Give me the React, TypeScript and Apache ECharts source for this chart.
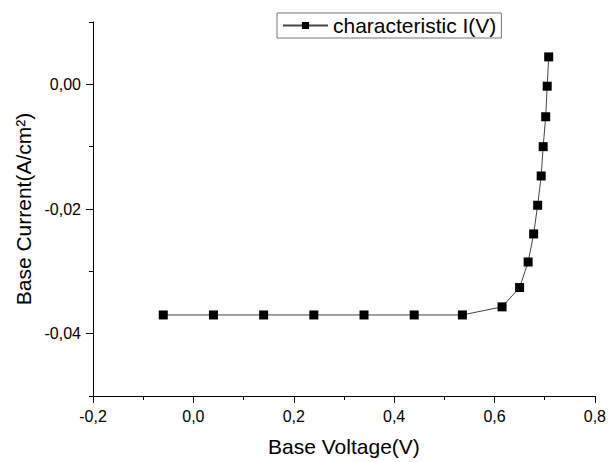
import React, { useEffect, useRef } from "react";
import * as echarts from "echarts";

const voltage = [-0.06, 0.04, 0.14, 0.24, 0.34, 0.44, 0.536, 0.615, 0.65, 0.667, 0.678, 0.686, 0.693, 0.697, 0.702, 0.705, 0.708];
const current = [-0.037, -0.037, -0.037, -0.037, -0.037, -0.037, -0.037, -0.0357, -0.0326, -0.0285, -0.024, -0.0194, -0.0147, -0.01, -0.0052, -0.0003, 0.0044];
const seriesName = "characteristic I(V)";
const xTitle = "Base Voltage(V)";
const yTitle = "Base Current(A/cm²)";
const yMajorTicks = [-0.04, -0.02, 0];

const FONT = "'Liberation Sans', Arial, sans-serif";

export default function App() {
  const ref = useRef<HTMLDivElement>(null);
  useEffect(() => {
    if (!ref.current) return;
    const chart = echarts.init(ref.current, undefined, { renderer: "svg" });
    const data = voltage.map((v, i) => [v, current[i]]);
    chart.setOption({
      animation: false,
      backgroundColor: "#fff",
      textStyle: { fontFamily: FONT },
      grid: { left: 93, top: 22, width: 503, height: 380, containLabel: false },
      legend: {
        left: 277,
        top: 13,
        padding: [2, 5, 2, 5],
        itemWidth: 45,
        itemHeight: 9,
        itemGap: 5,
        borderColor: "#777",
        borderWidth: 1,
        borderRadius: 0,
        textStyle: { fontFamily: FONT, fontSize: 21, color: "#000" },
        data: [{ name: seriesName }],
      },
      xAxis: {
        type: "value",
        min: -0.2,
        max: 0.8,
        interval: 0.2,
        name: xTitle,
        nameLocation: "middle",
        nameGap: 40,
        nameTextStyle: { fontFamily: FONT, fontSize: 21, color: "#000" },
        axisLine: { show: true, onZero: false, lineStyle: { color: "#000", width: 1 } },
        axisTick: { show: true, inside: false, length: 7, lineStyle: { color: "#000" } },
        minorTick: { show: true, splitNumber: 2, length: 4, lineStyle: { color: "#000" } },
        splitLine: { show: false },
        axisLabel: {
          margin: 12,
          fontSize: 16,
          color: "#000",
          fontFamily: FONT,
          formatter: (v: number) => v.toFixed(1).replace(".", ","),
        },
      },
      yAxis: [
        {
          type: "value",
          position: "left",
          min: -0.05,
          max: 0.01,
          interval: 0.01,
          name: yTitle,
          nameLocation: "middle",
          nameGap: 55,
          nameTextStyle: { fontFamily: FONT, fontSize: 21, color: "#000" },
          axisLine: { show: true, onZero: false, lineStyle: { color: "#000", width: 1 } },
          axisTick: { show: true, inside: false, length: 4, lineStyle: { color: "#000" } },
          splitLine: { show: false },
          axisLabel: {
            margin: 12,
            fontSize: 16,
            color: "#000",
            fontFamily: FONT,
            formatter: (v: number) => {
              const k = Math.round(v * 100);
              if (k % 2 !== 0) return "";
              return (k / 100).toFixed(2).replace(".", ",");
            },
          },
        },
        {
          type: "value",
          position: "left",
          offset: 0,
          min: -0.05,
          max: 0.01,
          interval: 0.01,
          axisLine: { show: false, onZero: false },
          axisTick: { show: true, inside: false, length: 7, customValues: yMajorTicks, lineStyle: { color: "#000" } },
          axisLabel: { show: false },
          splitLine: { show: false },
        },
      ],
      series: [
        {
          name: seriesName,
          type: "line",
          yAxisIndex: 0,
          data,
          symbol: "rect",
          symbolSize: 9,
          itemStyle: { color: "#000" },
          lineStyle: { color: "#444", width: 1 },
        },
      ],
    });
    return () => chart.dispose();
  }, []);
  return (
    <div
      ref={ref}
      style={{ position: "fixed", left: 0, top: 0, width: 609, height: 462 }}
    />
  );
}
